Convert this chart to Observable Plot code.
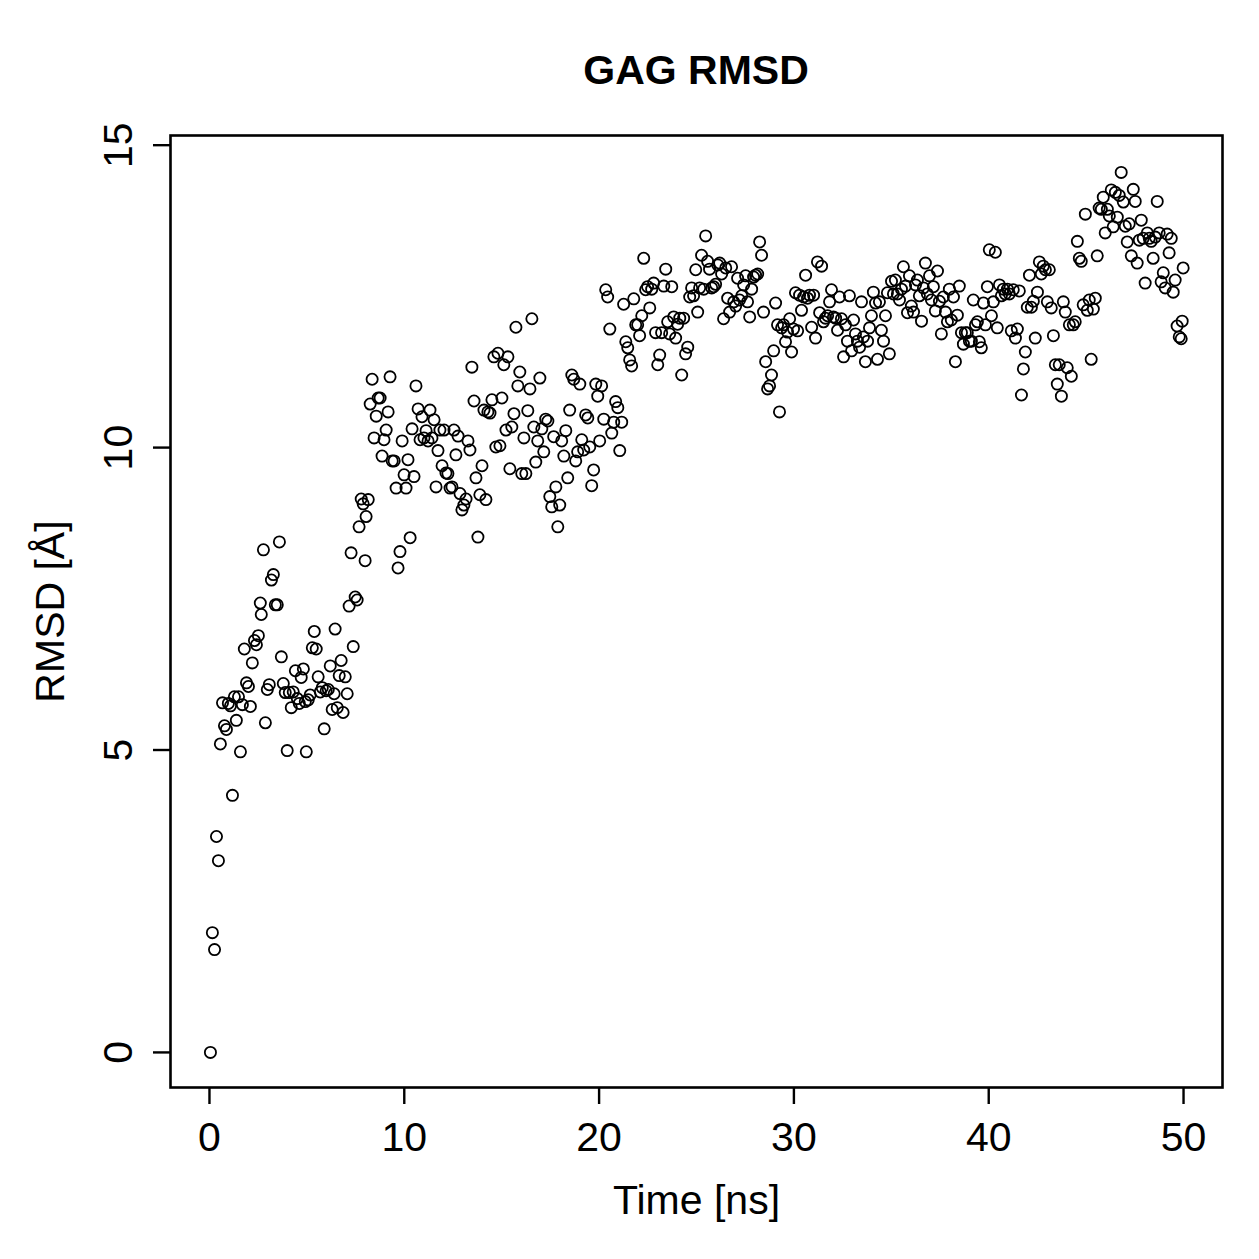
<!DOCTYPE html>
<html>
<head>
<meta charset="utf-8">
<script src="https://cdn.jsdelivr.net/npm/d3@7"></script>
<script src="https://cdn.jsdelivr.net/npm/@observablehq/plot@0.6"></script>
<style>
  html, body { margin: 0; padding: 0; background: #fff; }
  body { width: 1259px; height: 1259px; overflow: hidden; font-family: "Liberation Sans", Arial, Helvetica, sans-serif; }
  #title { position: relative; height: 120px; }
  #title span { position: absolute; left: 696px; top: 70px; transform: translate(-50%, -50%); font-weight: bold; font-size: 41px; color: #000; white-space: nowrap; }
</style>
</head>
<body>
<div id="title"><span>GAG RMSD</span></div>
<div id="chart"></div>
<script>
const chartTitle = "GAG RMSD";
const xLabel = "Time [ns]";
const yLabel = "RMSD [Å]";
const xTicks = [0, 10, 20, 30, 40, 50];
const yTicks = [0, 5, 10, 15];

const timeNs = [
0.05,0.15,0.26,0.36,0.46,0.56,0.67,0.77,0.87,0.97,1.08,1.18,1.28,1.38,1.49,1.59,1.69,1.79,1.90,2.00,
2.10,2.20,2.31,2.41,2.51,2.61,2.66,2.77,2.87,2.97,3.07,3.18,3.28,3.38,3.48,3.59,3.69,3.79,3.89,3.99,
4.10,4.20,4.30,4.41,4.51,4.61,4.71,4.82,4.92,4.97,5.07,5.17,5.28,5.38,5.48,5.58,5.69,5.79,5.89,5.99,
6.10,6.20,6.30,6.40,6.45,6.56,6.66,6.76,6.86,6.97,7.07,7.17,7.27,7.38,7.48,7.58,7.68,7.79,7.89,7.99,
8.04,8.15,8.25,8.35,8.45,8.56,8.66,8.76,8.86,8.96,9.07,9.17,9.27,9.38,9.48,9.58,9.68,9.78,9.89,9.99,
10.09,10.19,10.30,10.40,10.50,10.60,10.71,10.81,10.91,11.01,11.12,11.22,11.32,11.42,11.53,11.63,11.73,11.83,11.94,12.04,
12.14,12.24,12.35,12.45,12.55,12.65,12.76,12.86,12.96,13.06,13.17,13.27,13.37,13.47,13.58,13.68,13.78,13.88,13.99,14.09,
14.19,14.29,14.40,14.50,14.60,14.70,14.81,14.91,15.01,15.11,15.22,15.32,15.42,15.52,15.63,15.73,15.83,15.93,16.03,16.14,
16.24,16.34,16.45,16.55,16.65,16.75,16.85,16.96,17.06,17.16,17.26,17.37,17.47,17.57,17.67,17.78,17.88,17.98,18.08,18.19,
18.29,18.39,18.49,18.60,18.70,18.80,18.90,19.01,19.11,19.21,19.31,19.42,19.52,19.62,19.72,19.83,19.93,20.03,20.13,20.24,
20.34,20.44,20.55,20.65,20.75,20.85,20.96,21.06,21.16,21.26,21.37,21.47,21.57,21.67,21.78,21.88,21.98,22.08,22.19,22.29,
22.39,22.49,22.60,22.70,22.80,22.90,23.01,23.11,23.21,23.32,23.42,23.52,23.62,23.73,23.83,23.93,24.03,24.14,24.24,24.34,
24.44,24.55,24.65,24.75,24.85,24.96,25.06,25.16,25.26,25.37,25.47,25.57,25.67,25.78,25.88,25.98,26.09,26.19,26.29,26.39,
26.50,26.60,26.70,26.80,26.91,27.01,27.11,27.21,27.32,27.42,27.52,27.62,27.73,27.83,27.93,28.03,28.14,28.24,28.34,28.44,
28.55,28.65,28.75,28.85,28.96,29.06,29.16,29.26,29.37,29.47,29.57,29.67,29.78,29.88,29.98,30.08,30.19,30.29,30.39,30.50,
30.60,30.70,30.80,30.91,31.01,31.11,31.21,31.32,31.42,31.52,31.62,31.73,31.83,31.93,32.03,32.14,32.24,32.34,32.44,32.55,
32.65,32.75,32.85,32.96,33.06,33.16,33.26,33.37,33.47,33.57,33.67,33.78,33.88,33.98,34.08,34.19,34.29,34.39,34.49,34.60,
34.70,34.80,34.90,35.01,35.11,35.21,35.31,35.42,35.52,35.62,35.73,35.83,35.93,36.03,36.14,36.24,36.34,36.44,36.55,36.65,
36.75,36.85,36.96,37.06,37.16,37.26,37.37,37.47,37.57,37.67,37.78,37.88,37.98,38.08,38.19,38.29,38.39,38.49,38.60,38.70,
38.80,38.90,39.01,39.11,39.21,39.32,39.42,39.52,39.62,39.73,39.83,39.93,40.03,40.14,40.24,40.34,40.44,40.55,40.65,40.75,
40.85,40.96,41.06,41.16,41.26,41.37,41.47,41.57,41.68,41.78,41.88,41.98,42.09,42.19,42.29,42.39,42.50,42.60,42.70,42.80,
42.91,43.01,43.11,43.21,43.32,43.42,43.52,43.62,43.73,43.83,43.93,44.03,44.14,44.24,44.34,44.44,44.55,44.65,44.75,44.85,
44.96,45.06,45.16,45.26,45.37,45.47,45.57,45.67,45.78,45.88,45.98,46.09,46.19,46.29,46.39,46.50,46.60,46.70,46.80,46.91,
47.01,47.11,47.21,47.32,47.42,47.52,47.62,47.73,47.83,47.93,48.03,48.14,48.24,48.34,48.44,48.55,48.65,48.75,48.85,48.96,
49.06,49.16,49.26,49.37,49.47,49.57,49.67,49.78,49.88,49.93,49.98
];

const rmsd = [
0,1.98,1.70,3.57,3.17,5.10,5.78,5.40,5.34,5.77,5.73,4.25,5.88,5.49,5.88,4.97,5.75,6.67,6.11,6.05,
5.72,6.44,6.81,6.74,6.89,7.43,7.24,8.31,5.45,6.00,6.08,7.81,7.90,7.40,7.40,8.44,6.54,6.10,5.95,4.99,
5.95,5.70,5.96,6.31,5.85,5.77,6.20,6.34,5.80,4.97,5.83,5.91,6.69,6.96,6.67,6.21,5.96,6.03,5.35,5.98,
6.00,6.39,5.67,5.93,7.00,5.70,6.23,6.48,5.62,6.21,5.93,7.38,8.26,6.71,7.53,7.48,8.69,9.15,9.07,8.13,
8.86,9.14,10.72,11.13,10.16,10.52,10.82,10.82,9.86,10.13,10.29,10.59,11.17,9.78,9.78,9.33,8.01,8.28,10.11,9.55,
9.33,9.80,8.51,10.31,9.52,11.02,10.64,10.13,10.51,10.16,10.28,10.11,10.62,10.16,10.46,9.35,9.95,10.29,9.70,10.29,
9.58,9.57,9.33,9.35,10.29,9.88,10.19,9.24,8.97,9.05,9.15,10.11,9.96,11.33,10.77,9.50,8.52,9.22,9.70,10.62,
9.14,10.59,10.57,10.79,11.50,10.01,11.56,10.03,10.82,11.37,10.29,11.50,9.65,10.34,10.56,11.99,11.02,11.25,9.57,10.16,
9.57,10.61,10.97,12.13,10.34,9.76,10.11,11.15,10.31,9.93,10.47,10.44,9.19,9.02,10.18,9.35,8.69,9.05,10.11,9.86,
10.28,9.50,10.62,11.20,11.13,9.78,9.93,11.05,10.13,9.96,10.54,10.49,10.01,9.37,9.63,11.05,10.85,10.11,11.02,10.47,
12.61,12.49,11.96,10.24,10.42,10.76,10.66,9.95,10.42,12.37,11.75,11.65,11.45,11.35,12.46,12.03,12.03,11.85,12.18,13.13,
12.61,12.66,12.31,12.62,12.72,11.90,11.37,11.53,11.90,12.67,12.95,12.08,11.88,12.66,12.16,11.81,12.04,12.14,11.20,12.14,
11.55,11.66,12.49,12.64,12.51,12.94,12.24,12.64,13.18,12.62,13.50,13.08,12.95,12.64,12.66,12.70,13.02,13.05,12.87,12.13,
12.97,12.47,12.24,12.99,12.41,12.34,12.80,12.44,12.51,12.69,12.84,12.41,12.16,12.62,12.82,12.85,12.87,13.40,13.18,12.24,
11.42,10.97,11.02,11.20,11.60,12.39,12.03,10.59,11.98,12.03,11.75,11.91,12.13,11.58,11.96,12.56,11.93,12.52,12.27,12.49,
12.85,12.47,12.52,11.99,12.52,11.81,13.07,12.23,13.00,12.08,12.14,12.18,12.41,12.61,12.16,12.14,11.94,12.49,12.13,11.50,
12.03,11.76,12.51,11.60,12.11,11.88,11.76,11.66,12.41,11.83,11.42,11.76,11.98,12.18,12.57,12.39,11.46,12.41,11.94,11.76,
12.18,12.56,11.55,12.75,12.54,12.77,12.54,12.44,12.62,12.99,12.67,12.23,12.84,12.34,12.24,12.69,12.77,12.51,12.09,12.64,
13.05,12.54,12.84,12.44,12.66,12.26,12.92,12.42,11.88,12.49,12.24,12.08,12.62,12.11,12.49,11.42,12.19,12.67,11.90,11.71,
11.90,11.90,11.76,11.76,12.44,12.03,12.08,11.75,11.65,12.39,12.03,12.66,13.27,12.18,12.41,13.23,11.98,12.69,12.51,12.62,
12.54,12.62,12.54,11.93,12.61,11.81,11.96,12.59,10.87,11.30,11.58,12.32,12.85,12.32,12.42,11.81,12.57,13.07,12.87,13.00,
12.94,12.41,12.94,12.31,11.85,11.37,11.05,11.37,10.85,12.41,12.24,11.32,12.03,11.18,12.03,12.08,13.41,13.13,13.08,12.36,
13.86,12.27,12.44,11.46,12.29,12.47,13.17,13.96,13.94,14.14,13.55,13.94,13.83,14.26,13.65,14.22,13.81,14.17,14.55,14.06,
13.66,13.40,13.70,13.17,14.27,14.07,13.05,13.43,13.76,13.46,12.72,13.55,13.46,13.41,13.13,13.48,14.07,13.55,12.74,12.89,
12.64,13.53,13.22,13.46,12.57,12.77,12.01,11.83,11.80,12.09,12.97
];

const data = timeNs.map((t, i) => ({time: t, rmsd: rmsd[i]}));
const font = "'Liberation Sans', Arial, Helvetica, sans-serif";

const chart = Plot.plot({
  width: 1259,
  height: 1139,
  marginLeft: 170,
  marginRight: 37,
  marginTop: 15,
  marginBottom: 172,
  style: {background: "#fff", fontFamily: font, color: "#000", overflow: "visible"},
  x: {domain: [-2, 52], axis: null},
  y: {domain: [-0.58, 15.16], axis: null},
  marks: [
    Plot.dot(data, {x: "time", y: "rmsd", r: 5.6, stroke: "#000", strokeWidth: 1.8, fill: "none"}),
    Plot.frame({stroke: "#000", strokeWidth: 2.6}),
    Plot.axisX({ticks: xTicks, tickSize: 17, tickFormat: () => "", strokeWidth: 2.4, label: null}),
    Plot.axisY({ticks: yTicks, tickSize: 17, tickFormat: () => "", strokeWidth: 2.4, label: null}),
    Plot.text(xTicks, {x: d => d, frameAnchor: "bottom", dy: 50, text: d => String(d), fontSize: 41, textAnchor: "middle", lineAnchor: "middle", fill: "#000"}),
    Plot.text(yTicks, {y: d => d, frameAnchor: "left", dx: -52, text: d => String(d), fontSize: 41, rotate: -90, textAnchor: "middle", lineAnchor: "middle", fill: "#000"}),
    Plot.text([xLabel], {frameAnchor: "bottom", dy: 113, text: d => d, fontSize: 41, textAnchor: "middle", lineAnchor: "middle", fill: "#000"}),
    Plot.text([yLabel], {frameAnchor: "left", dx: -120, text: d => d, fontSize: 41, rotate: -90, textAnchor: "middle", lineAnchor: "middle", fill: "#000"})
  ]
});
document.getElementById("chart").appendChild(chart);
</script>
</body>
</html>
